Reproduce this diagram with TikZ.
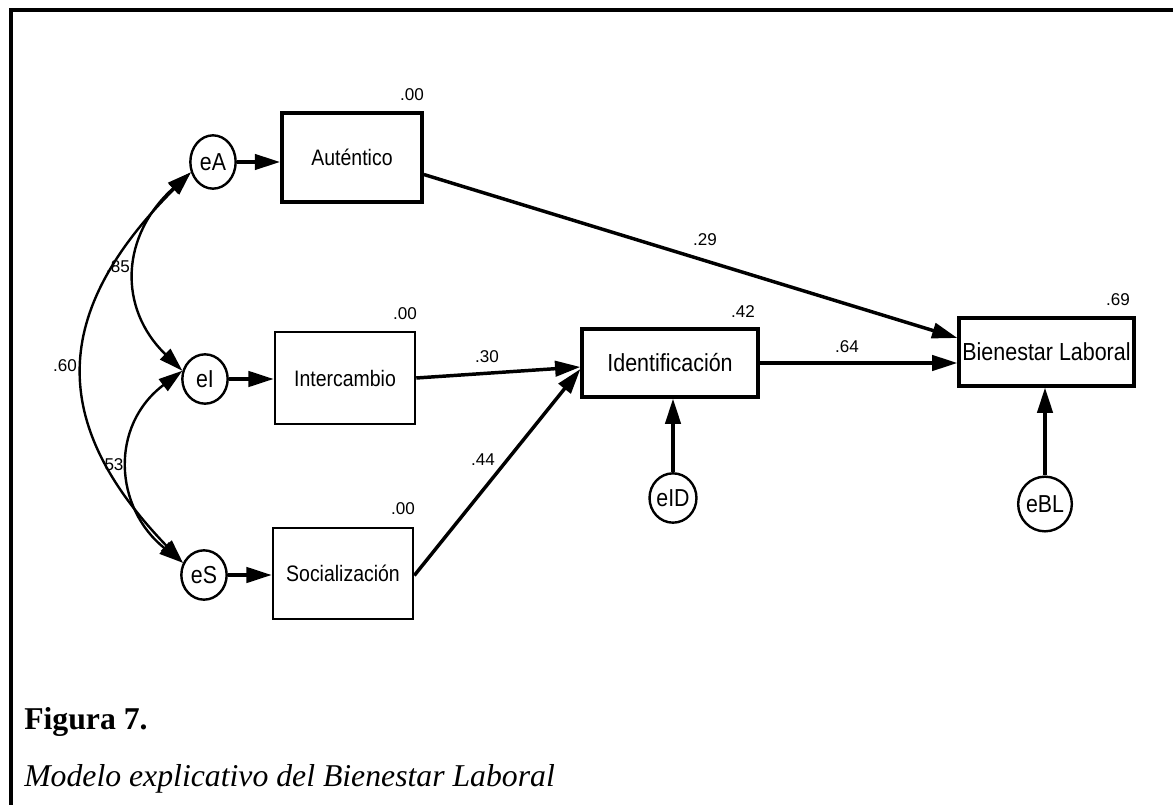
\documentclass[tikz,border=0pt]{standalone}
\usepackage{graphicx}
\usepackage{fontspec}
\setmainfont{Liberation Serif}
\newfontfamily\diagfont{Liberation Sans}
\usetikzlibrary{arrows.meta,shapes.geometric,calc}
% labels in the path diagram are set slightly taller than wide
\newcommand\tallt[1]{\scalebox{1}[1.15]{#1}}

\begin{document}
\begin{tikzpicture}[x=0.75pt,y=-0.75pt,
  errnode/.style={draw, line width=1.8pt, ellipse, inner sep=0pt,
    minimum width=34pt, minimum height=37pt,
    font=\diagfont\fontsize{16}{17}\selectfont},
  varbox/.style={draw, line width=2.4pt, rectangle, inner sep=0pt,
    font=\diagfont\fontsize{14.6}{16}\selectfont},
  bigbox/.style={varbox, font=\diagfont\fontsize{16.1}{18}\selectfont},
  coef/.style={inner sep=0pt, font=\diagfont\fontsize{12.8}{14}\selectfont},
  regarrow/.style={line width=2.6pt, -{Triangle[length=19pt,width=11.5pt]}},
  covarrow/.style={line width=1.8pt,
    {Triangle[length=18pt,width=11pt]}-{Triangle[length=18pt,width=11pt]}},
]
\useasboundingbox (0,0) rectangle (1173,805);

% frame
\draw[line width=3pt] (11,812) -- (11,10) -- (1180,10);

% error terms
\node[errnode, minimum height=40pt] (eA) at (213,162) {\tallt{eA}};
\node[errnode] (eI) at (205,379) {\tallt{eI}};
\node[errnode] (eS) at (204,575) {\tallt{eS}};
\node[errnode] (eID) at (673,498) {\tallt{eID}};
\node[errnode, minimum height=41pt] (eBL) at (1045,504) {\tallt{eBL}};

% observed variables
\node[varbox, line width=2.8pt, minimum width=105pt, minimum height=66.75pt] (Aut) at (352,157.5) {\tallt{Auténtico}};
\node[varbox, line width=1.9pt, minimum width=105pt, minimum height=69pt] (Int) at (345,378) {\tallt{Intercambio}};
\node[varbox, line width=1.9pt, minimum width=105pt, minimum height=68.25pt] (Soc) at (343,573.5) {\tallt{Socialización}};
\node[bigbox, minimum width=132pt, minimum height=51pt] (Ide) at (670,363) {\tallt{Identificación}};
\node[bigbox, minimum width=131.25pt, minimum height=51pt] (Bie) at (1046.5,352) {\tallt{Bienestar Laboral}};

% squared multiple correlations
\node[coef] (rAut) at (412,95) {.00};
\node[coef] (rInt) at (405,314) {.00};
\node[coef] (rSoc) at (403,509) {.00};
\node[coef] (rIde) at (743,312) {.42};
\node[coef] (rBie) at (1118,300) {.69};

% error paths
\draw[regarrow] (eA.east) -- (eA.east -| Aut.west);
\draw[regarrow] (eI.east) -- (eI.east -| Int.west);
\draw[regarrow] (eS.east) -- (eS.east -| Soc.west);
\draw[regarrow] (eID.north) -- (eID.north |- Ide.south);
\draw[regarrow] (eBL.north) -- (eBL.north |- Bie.south);

% structural paths
\draw[regarrow] ($(Aut.east)+(0,17)$) -- ($(Bie.west)+(0,-14)$);
\draw[regarrow] (Int.east) -- ($(Ide.west)+(0,4)$);
\draw[regarrow] ($(Soc.east)+(0,2)$) -- ($(Ide.west)+(0,6)$);
\draw[regarrow] (Ide.east) -- (Ide.east -| Bie.west);

\node[coef] (p29) at (705,240) {.29};
\node[coef] (p30) at (487,357) {.30};
\node[coef] (p44) at (483,460) {.44};
\node[coef] (p64) at (847,347) {.64};

% covariances between error terms
\draw[covarrow] (eA.205) .. controls +(-70,63) and +(-65,-63) .. (eI.160);
\draw[covarrow] (eA.205) .. controls +(-140,140) and +(-135,-140) .. (eS.150);
\draw[covarrow] (eI.160) .. controls +(-73,55) and +(-69,-55) .. (eS.150);

\node[coef] (c85) at (118,267) {.85};
\node[coef] (c60) at (65,366) {.60};
\node[coef] (c53) at (114,465) {53};

% caption
\node[anchor=base west, inner sep=0pt, font=\bfseries\fontsize{23.8}{28}\selectfont] (fig) at (24,729) {Figura 7.};
\node[anchor=base west, inner sep=0pt, font=\itshape\fontsize{23.8}{28}\selectfont] (cap) at (24,786) {Modelo explicativo del Bienestar Laboral};
\end{tikzpicture}
\end{document}
